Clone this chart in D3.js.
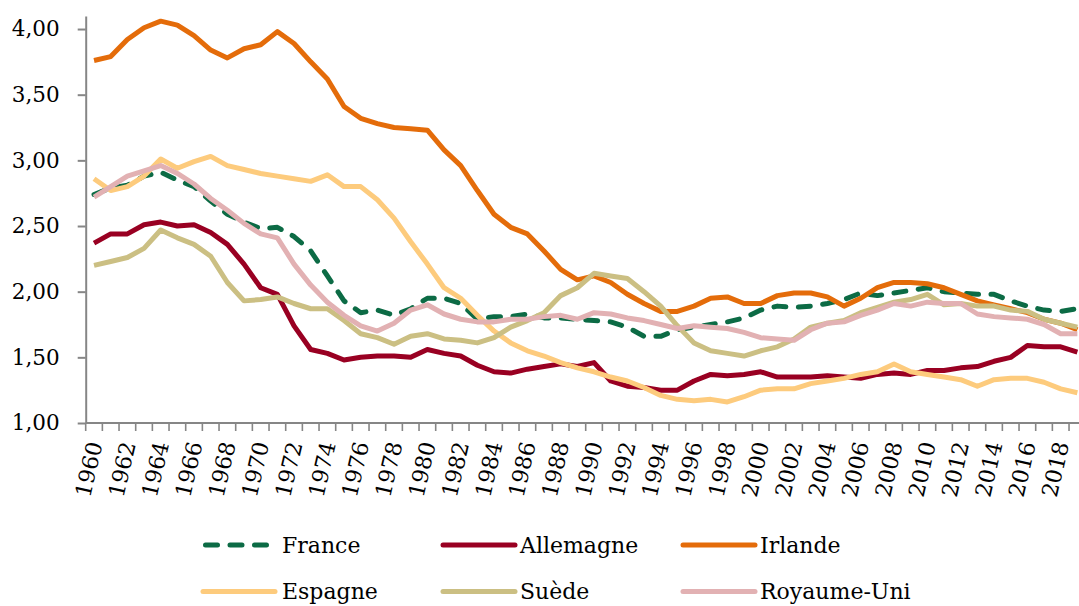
<!DOCTYPE html>
<html>
<head>
<meta charset="utf-8">
<script src="https://cdn.jsdelivr.net/npm/d3@7/dist/d3.min.js"></script>
<style>
  body { margin: 0; background: #fff; }
  svg { display: block; font-family: "DejaVu Serif", serif; }
</style>
</head>
<body>
<script>
// annees 1960 - 2019
var annees = d3.range(1960, 2020);
var yTicks = [1, 1.5, 2, 2.5, 3, 3.5, 4];

var france = [2.74, 2.79, 2.81, 2.88, 2.91, 2.85, 2.80, 2.69, 2.59, 2.53,
  2.48, 2.49, 2.42, 2.31, 2.12, 1.93, 1.84, 1.86, 1.82, 1.87,
  1.95, 1.95, 1.91, 1.79, 1.81, 1.81, 1.83, 1.80, 1.80, 1.79,
  1.78, 1.77, 1.73, 1.66, 1.66, 1.71, 1.73, 1.75, 1.77, 1.80,
  1.86, 1.89, 1.88, 1.89, 1.91, 1.94, 1.99, 1.97, 1.99, 2.01,
  2.03, 2.00, 1.99, 1.98, 1.98, 1.93, 1.89, 1.86, 1.85, 1.87];
var allemagne = [2.37, 2.44, 2.44, 2.51, 2.53, 2.50, 2.51, 2.45, 2.36, 2.21,
  2.03, 1.98, 1.74, 1.56, 1.53, 1.48, 1.50, 1.51, 1.51, 1.50,
  1.56, 1.53, 1.51, 1.44, 1.39, 1.38, 1.41, 1.43, 1.45, 1.43,
  1.46, 1.32, 1.28, 1.27, 1.25, 1.25, 1.32, 1.37, 1.36, 1.37,
  1.39, 1.35, 1.35, 1.35, 1.36, 1.35, 1.34, 1.37, 1.38, 1.37,
  1.40, 1.40, 1.42, 1.43, 1.47, 1.50, 1.59, 1.58, 1.58, 1.54];
var irlande = [3.76, 3.79, 3.92, 4.01, 4.06, 4.03, 3.95, 3.84, 3.78, 3.85,
  3.88, 3.98, 3.89, 3.75, 3.62, 3.41, 3.32, 3.28, 3.25, 3.24,
  3.23, 3.08, 2.96, 2.77, 2.59, 2.49, 2.44, 2.31, 2.17, 2.09,
  2.12, 2.07, 1.98, 1.91, 1.85, 1.85, 1.89, 1.95, 1.96, 1.91,
  1.91, 1.97, 1.99, 1.99, 1.96, 1.89, 1.95, 2.03, 2.07, 2.07,
  2.06, 2.03, 1.98, 1.93, 1.90, 1.87, 1.84, 1.79, 1.76, 1.71];
var espagne = [2.86, 2.77, 2.80, 2.88, 3.01, 2.94, 2.99, 3.03, 2.96, 2.93,
  2.90, 2.88, 2.86, 2.84, 2.89, 2.80, 2.80, 2.70, 2.56, 2.38,
  2.21, 2.03, 1.95, 1.82, 1.70, 1.61, 1.55, 1.51, 1.46, 1.42,
  1.39, 1.35, 1.32, 1.27, 1.21, 1.18, 1.17, 1.18, 1.16, 1.20,
  1.25, 1.26, 1.26, 1.30, 1.32, 1.34, 1.37, 1.39, 1.45, 1.39,
  1.37, 1.35, 1.33, 1.28, 1.33, 1.34, 1.34, 1.31, 1.26, 1.23];
var suede = [2.20, 2.23, 2.26, 2.33, 2.47, 2.41, 2.36, 2.27, 2.07, 1.93,
  1.94, 1.96, 1.91, 1.87, 1.87, 1.78, 1.68, 1.65, 1.60, 1.66,
  1.68, 1.64, 1.63, 1.61, 1.65, 1.73, 1.78, 1.84, 1.97, 2.03,
  2.14, 2.12, 2.10, 2.00, 1.89, 1.74, 1.61, 1.55, 1.53, 1.51,
  1.55, 1.58, 1.64, 1.73, 1.76, 1.78, 1.84, 1.88, 1.92, 1.94,
  1.98, 1.90, 1.91, 1.89, 1.89, 1.86, 1.85, 1.79, 1.76, 1.73];
var royaumeUni = [2.72, 2.80, 2.88, 2.92, 2.96, 2.90, 2.82, 2.71, 2.62, 2.52,
  2.44, 2.41, 2.21, 2.05, 1.92, 1.82, 1.74, 1.70, 1.76, 1.86,
  1.90, 1.83, 1.79, 1.77, 1.77, 1.79, 1.79, 1.81, 1.82, 1.79,
  1.84, 1.83, 1.80, 1.78, 1.75, 1.72, 1.74, 1.73, 1.72, 1.69,
  1.65, 1.64, 1.63, 1.71, 1.76, 1.77, 1.82, 1.86, 1.91, 1.89,
  1.92, 1.91, 1.91, 1.83, 1.81, 1.80, 1.79, 1.75, 1.68, 1.68];

var pays = ["France", "Allemagne", "Irlande", "Espagne", "Suède", "Royaume-Uni"];
var valeurs = [france, allemagne, irlande, espagne, suede, royaumeUni];
var couleurs = ["#0c6b45", "#990022", "#e46c0a", "#fdcb7d", "#cbbf83", "#e2b1b3"];

var largeur = 1079, hauteur = 606;
var gris = "#868686";

var svg = d3.select("body").append("svg")
  .attr("width", largeur)
  .attr("height", hauteur);

var x = d3.scaleBand().domain(annees).range([85.7, 1085.7]);
var y = d3.scaleLinear().domain([1, 4.1]).range([423, 15.9]);
var cx = function(a) { return x(a) + x.bandwidth() / 2; };

// axe y
var axeY = svg.append("g")
  .attr("transform", "translate(85.7,0)")
  .call(d3.axisLeft(y).tickValues(yTicks).tickSize(8).tickSizeOuter(0).tickPadding(18)
    .tickFormat(function(d) { return d3.format(".2f")(d).replace(".", ","); }));
axeY.select(".domain").attr("stroke", gris).attr("stroke-width", 2);
axeY.selectAll(".tick line").attr("stroke", gris).attr("stroke-width", 2);
axeY.selectAll("text").attr("font-size", 21.5).attr("fill", "#000")
  .attr("font-family", "DejaVu Serif");

// axe x
var axeX = svg.append("g");
axeX.append("line")
  .attr("x1", 85.7).attr("x2", largeur)
  .attr("y1", y(1)).attr("y2", y(1))
  .attr("stroke", gris).attr("stroke-width", 2);
axeX.selectAll("line.tk")
  .data(d3.range(0, annees.length + 1))
  .enter().append("line")
  .attr("class", "tk")
  .attr("x1", function(k) { return 85.7 + k * x.step(); })
  .attr("x2", function(k) { return 85.7 + k * x.step(); })
  .attr("y1", y(1)).attr("y2", y(1) + 8)
  .attr("stroke", gris).attr("stroke-width", 1.6);
axeX.selectAll("text")
  .data(annees.filter(function(a) { return a % 2 === 0; }))
  .enter().append("text")
  .attr("transform", function(a) { return "translate(" + (cx(a) + 1) + ",442) rotate(-77)"; })
  .attr("text-anchor", "end")
  .attr("dy", "0.35em")
  .attr("font-size", 22)
  .text(function(a) { return a; });

// courbes
var ligne = d3.line()
  .x(function(d, i) { return cx(annees[i]); })
  .y(function(d) { return y(d); });

svg.selectAll("path.serie")
  .data(valeurs)
  .enter().append("path")
  .attr("class", "serie")
  .attr("d", ligne)
  .attr("fill", "none")
  .attr("stroke", function(d, i) { return couleurs[i]; })
  .attr("stroke-width", 5)
  .attr("stroke-linejoin", "round")
  .attr("stroke-linecap", function(d, i) { return i === 0 ? "round" : "butt"; })
  .attr("stroke-dasharray", function(d, i) { return i === 0 ? "12 12.5" : null; });

// legende
var leg = svg.selectAll("g.leg")
  .data(pays)
  .enter().append("g")
  .attr("class", "leg")
  .attr("transform", function(d, i) {
    return "translate(" + (203 + (i % 3) * 240) + "," + (545 + Math.floor(i / 3) * 46.5) + ")";
  });
leg.append("line")
  .attr("x1", function(d, i) { return i === 0 ? 2.5 : 0; })
  .attr("x2", function(d, i) { return i === 0 ? 66 : 72; })
  .attr("stroke", function(d, i) { return couleurs[i]; })
  .attr("stroke-width", 5)
  .attr("stroke-linecap", "round")
  .attr("stroke-dasharray", function(d, i) { return i === 0 ? "12 12.5" : null; });
leg.append("text")
  .attr("x", function(d, i) { return i % 3 === 0 ? 79 : 77; })
  .attr("dy", "0.35em")
  .attr("font-size", 22)
  .text(function(d) { return d; });
</script>
</body>
</html>
